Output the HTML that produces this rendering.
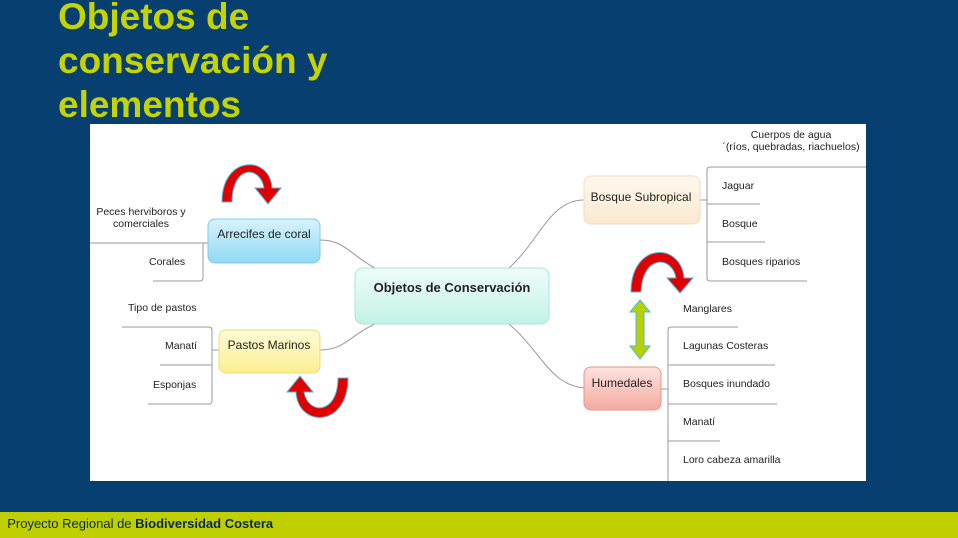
<!DOCTYPE html>
<html><head><meta charset="utf-8"><style>
body{margin:0;width:958px;height:538px;overflow:hidden;background:#063f70;font-family:"Liberation Sans",sans-serif;position:relative}
.t{position:absolute;left:58px;top:-5px;color:#c5d400;font-weight:bold;font-size:37px;line-height:44px}
.f{position:absolute;left:0;top:512px;width:958px;height:26px;background:#bfcf00;font-size:13px;line-height:24px;color:#0a2a55}
svg{position:absolute;left:0;top:0}
</style></head><body>
<div class="t">Objetos de<br>conservación y<br>elementos</div>
<svg width="958" height="538" font-family="Liberation Sans, sans-serif" font-size="11" fill="#222">
<defs>
<linearGradient id="g1" x1="0" y1="0" x2="0" y2="1"><stop offset="0" stop-color="#d8f3fc"/><stop offset="1" stop-color="#8fd9f3"/></linearGradient>
<linearGradient id="g2" x1="0" y1="0" x2="0" y2="1"><stop offset="0" stop-color="#fffbd8"/><stop offset="1" stop-color="#fbef90"/></linearGradient>
<linearGradient id="g3" x1="0" y1="0" x2="0" y2="1"><stop offset="0" stop-color="#fff8ee"/><stop offset="1" stop-color="#fbe9cf"/></linearGradient>
<linearGradient id="g4" x1="0" y1="0" x2="0" y2="1"><stop offset="0" stop-color="#fde3de"/><stop offset="1" stop-color="#f4aaa0"/></linearGradient>
<linearGradient id="g5" x1="0" y1="0" x2="0" y2="1"><stop offset="0" stop-color="#effdf9"/><stop offset="1" stop-color="#c3f2e5"/></linearGradient>
</defs>
<rect x="90" y="124" width="776" height="357" fill="#fff"/>
<g fill="none" stroke="#999" stroke-width="1">
<path d="M320 240 C345 240 350 255 375 268"/>
<path d="M320 350 C345 350 350 335 375 324"/>
<path d="M509 268 C540 240 550 200 584 200"/>
<path d="M509 324 C540 350 550 385 584 388"/>
<path d="M90 243 H208 M203 243 V278 Q203 281 200 281 H153"/>
<path d="M122 327 H209 Q212 327 212 330 V401 Q212 404 209 404 H148 M160 365 H212 M212 350 H219"/>
<path d="M866 167 H710 Q707 167 707 170 V278 Q707 281 710 281 H807 M707 204 H760 M707 242 H765 M700 200 H707"/>
<path d="M738 327 H671 Q668 327 668 330 V481 M668 365 H775 M668 404 H777 M668 441 H720 M661 389 H668"/>
</g>
<rect x="208" y="219" width="112" height="44" rx="7" fill="url(#g1)" stroke="#7fcbe8"/>
<rect x="219" y="330" width="101" height="43" rx="7" fill="url(#g2)" stroke="#e9dc79"/>
<rect x="355" y="268" width="194" height="56" rx="8" fill="url(#g5)" stroke="#a8e6d6"/>
<rect x="584" y="176" width="116" height="48" rx="7" fill="url(#g3)" stroke="#f0dcc0"/>
<rect x="584" y="367" width="77" height="43" rx="7" fill="url(#g4)" stroke="#e5948a"/>
<text x="264" y="238" text-anchor="middle" font-size="12">Arrecifes de coral</text>
<text x="269" y="349" text-anchor="middle" font-size="12">Pastos Marinos</text>
<text x="452" y="292" text-anchor="middle" font-size="13" font-weight="bold">Objetos de Conservación</text>
<text x="641" y="201" text-anchor="middle" font-size="12">Bosque Subropical</text>
<text x="622" y="387" text-anchor="middle" font-size="12">Humedales</text>
<g font-size="10.5">
<text x="141" y="215" text-anchor="middle">Peces herviboros y</text>
<text x="141" y="227" text-anchor="middle">comerciales</text>
<text x="149" y="265">Corales</text>
<text x="128" y="311">Tipo de pastos</text>
<text x="165" y="349">Manatí</text>
<text x="153" y="388">Esponjas</text>
<text x="791" y="138" text-anchor="middle">Cuerpos de agua</text>
<text x="791" y="150" text-anchor="middle">´(ríos, quebradas, riachuelos)</text>
<text x="722" y="189">Jaguar</text>
<text x="722" y="227">Bosque</text>
<text x="722" y="265">Bosques riparios</text>
<text x="683" y="312">Manglares</text>
<text x="683" y="349">Lagunas Costeras</text>
<text x="683" y="387">Bosques inundado</text>
<text x="683" y="425">Manatí</text>
<text x="683" y="463">Loro cabeza amarilla</text>
</g>
<g fill="#e00000" stroke="#4ab8e0" stroke-width="1">
<path d="M222 202 C222 155 270 155 272 188 L281 188 L268 204 L255 188 L264 188 C260 165 232 165 232 202 Z"/>
<path d="M348 378 C348 428 298 428 296 392 L287 392 L300 376 L313 392 L304 392 C308 415 338 415 338 378 Z"/>
<path d="M631 292 C631 242 681 242 684 278 L693 278 L680 293 L667 278 L676 278 C672 255 642 255 641 292 Z"/>
</g>
<path d="M640 300 L650 312 L644 312 L644 346 L650 346 L640 359 L630 346 L636 346 L636 312 L630 312 Z" fill="#b8cf00" stroke="#4ab8e0"/>
</svg>
<div class="f">&nbsp;&nbsp;Proyecto Regional de <b>Biodiversidad Costera</b></div>
</body></html>
